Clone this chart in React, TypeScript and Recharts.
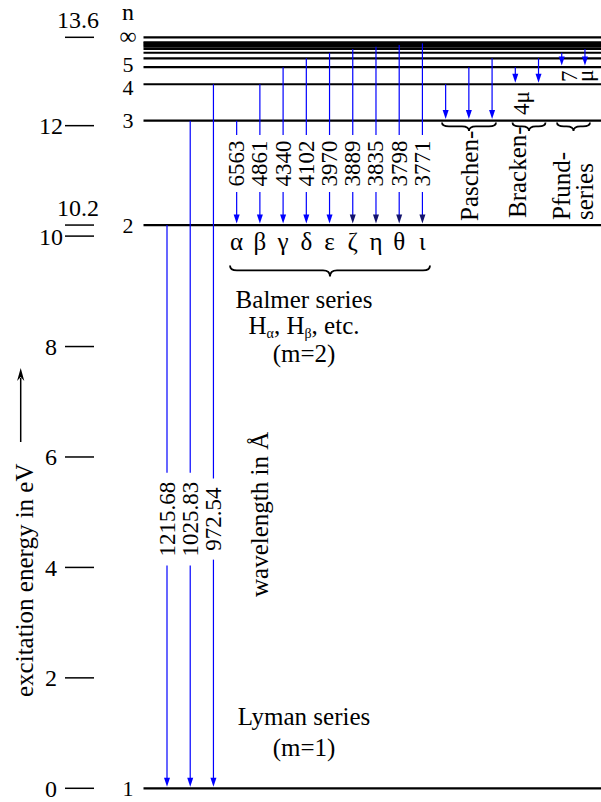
import React from 'react';
import { ComposedChart, XAxis, YAxis, ReferenceLine, ReferenceDot } from 'recharts';

// ---------- data ----------
const levelNames = ['1', '2', '3', '4', '5', '6', '7', '8', '9', '10', '11', '12', '∞'];
const levelEnergies = [0, 10.2, 12.09, 12.75, 13.06, 13.22, 13.32, 13.39, 13.43, 13.46, 13.49, 13.51, 13.6];
const labelledLevels = ['1', '2', '3', '4', '5', '∞'];
const yTicks = [0, 2, 4, 6, 8, 10, 12];
const yTicksAbove = [10.2, 13.6];

const lymanUpper = [2, 3, 4];
const lymanWavelengths = ['1215.68', '1025.83', '972.54'];
const balmerUpper = [3, 4, 5, 6, 7, 8, 9, 10, 11];
const balmerWavelengths = ['6563', '4861', '4340', '4102', '3970', '3889', '3835', '3798', '3771'];
const balmerLetters = ['α', 'β', 'γ', 'δ', 'ε', 'ζ', 'η', 'θ', 'ι'];
const paschenUpper = [4, 5, 6];
const brackettUpper = [5, 6];
const pfundUpper = [7, 8];

// ---------- layout ----------
const W = 601;
const H = 802;
const COL0 = 167;
const COLW = 23.22;
const Y0 = 788.3;
const PXEV = 55.22;
const colAt = (px: number) => (px - COL0) / COLW;
const eAt = (py: number) => (Y0 - py) / PXEV;
const X_DOMAIN: [number, number] = [colAt(0), colAt(W)];
const Y_DOMAIN: [number, number] = [eAt(H), eAt(0)];

const FONT = '"Liberation Serif", "Times New Roman", serif';
const FS = 23;
const FST = 24;
const FSW = 25;
const BLUE = '#0000ff';
const NAVY = '#14146e';

const energy = (n: number) => levelEnergies[n - 1];

type Tr = { col: number; upper: number; lower: number; label?: string; labelE?: number; pad?: number; head?: string };
const transitions: Tr[] = [];
{
  let c = 0;
  lymanUpper.forEach((u, i) => transitions.push({ col: c++, upper: u, lower: 1, label: lymanWavelengths[i], labelE: eAt(519), pad: 9 }));
  balmerUpper.forEach((u, i) => transitions.push({ col: c++, upper: u, lower: 2, label: balmerWavelengths[i], labelE: eAt(163.5), pad: 5.5, head: i >= 5 ? NAVY : BLUE }));
  paschenUpper.forEach((u) => transitions.push({ col: c++, upper: u, lower: 3 }));
  brackettUpper.forEach((u) => transitions.push({ col: c++, upper: u, lower: 4 }));
  pfundUpper.forEach((u) => transitions.push({ col: c++, upper: u, lower: 5 }));
}

const labelLen = (s: string) => {
  let em = 0;
  for (const ch of s) em += ch === '.' ? 0.25 : 0.5;
  return em * FS;
};

const arrowShape = (t: Tr) => (p: any) => {
  const x = p.x1;
  const yTop = Math.min(p.y1, p.y2);
  const yBot = Math.max(p.y1, p.y2);
  const eTop = energy(t.upper);
  const eBot = energy(t.lower);
  const k = (yBot - yTop) / (eTop - eBot);
  const tip = yBot - 1.6;
  const hl = 9;
  const hw = 3;
  const segs: [number, number][] = [];
  if (t.label && t.labelE !== undefined) {
    const c = yTop + (eTop - t.labelE) * k;
    const half = labelLen(t.label) / 2 + (t.pad || 5);
    segs.push([yTop, c - half]);
    segs.push([c + half, tip - hl + 1]);
  } else {
    segs.push([yTop, tip - hl + 1]);
  }
  return (
    <g>
      {segs.map((s, i) => (
        <line key={i} x1={x} x2={x} y1={s[0]} y2={s[1]} stroke={BLUE} strokeWidth={1.2} />
      ))}
      <polygon points={`${x - hw},${tip - hl} ${x + hw},${tip - hl} ${x},${tip}`} fill={t.head || BLUE} />
    </g>
  );
};

const braceShape = (depth: number) => (p: any) => {
  const x1 = Math.min(p.x1, p.x2);
  const x2 = Math.max(p.x1, p.x2);
  const y = p.y1;
  const m = (x1 + x2) / 2;
  const r = Math.min(7, (x2 - x1) / 4);
  const yb = y + depth * 0.45;
  const yt = y + depth;
  const d = `M ${x1} ${y} Q ${x1} ${yb} ${x1 + r} ${yb} L ${m - r} ${yb} Q ${m} ${yb} ${m} ${yt} Q ${m} ${yb} ${m + r} ${yb} L ${x2 - r} ${yb} Q ${x2} ${yb} ${x2} ${y}`;
  return <path d={d} fill="none" stroke="#000" strokeWidth={1.8} />;
};

const axisArrowShape = (p: any) => {
  const x = p.x1;
  const top = Math.min(p.y1, p.y2);
  const bot = Math.max(p.y1, p.y2);
  return (
    <g>
      <line x1={x} x2={x} y1={top + 10} y2={bot} stroke="#000" strokeWidth={1.5} />
      <polygon points={`${x - 3.6},${top + 13} ${x},${top + 9} ${x + 3.6},${top + 13} ${x},${top}`} fill="#000" />
    </g>
  );
};

type TextOpts = { anchor?: 'start' | 'middle' | 'end'; db?: string; rot?: boolean; fs?: number; dy?: number; dx?: number };
const textShape = (content: React.ReactNode, o: TextOpts = {}) => (p: any) => {
  const x = p.cx + (o.dx || 0);
  const y = p.cy + (o.dy || 0);
  return (
    <text
      x={x}
      y={y}
      transform={o.rot ? `rotate(-90 ${x} ${y})` : undefined}
      textAnchor={o.anchor || 'middle'}
      dominantBaseline={o.db || 'alphabetic'}
      fontSize={o.fs || FSW}
      fontFamily={FONT}
      fill="#000"
    >
      {content}
    </text>
  );
};

const T = (key: string, x: number, y: number, content: React.ReactNode, o: TextOpts = {}) => (
  <ReferenceDot key={key} x={x} y={y} r={0} ifOverflow="visible" shape={textShape(content, o)} />
);

const levelLabelDy: Record<string, number> = { '1': 0.5, '2': 0.5, '3': -0.5, '4': 3, '5': -3, '∞': -1.5 };

export default function App() {
  const xL = colAt(143.5);
  const xR = X_DOMAIN[1];
  return (
    <div style={{ position: 'absolute', left: 0, top: 0, width: W, height: H, background: '#fff' }}>
      <ComposedChart width={W} height={H} margin={{ top: 0, right: 0, bottom: 0, left: 0 }} data={[]}>
        <XAxis type="number" dataKey="x" domain={X_DOMAIN} allowDataOverflow hide />
        <YAxis type="number" domain={Y_DOMAIN} allowDataOverflow hide />

        {/* energy levels */}
        {levelEnergies.map((e, i) => (
          <ReferenceLine key={'lv' + i} segment={[{ x: xL, y: e }, { x: xR, y: e }]} stroke="#000" strokeWidth={2.2} ifOverflow="visible" />
        ))}

        {/* axis ticks */}
        {[...yTicks, ...yTicksAbove].map((v) => (
          <ReferenceLine key={'tk' + v} segment={[{ x: colAt(65), y: v }, { x: colAt(94), y: v }]} stroke="#000" strokeWidth={1.5} ifOverflow="visible" />
        ))}
        {yTicks.map((v) => T('tl' + v, colAt(51), v, String(v), { fs: FST, db: 'central', dy: 0.5 }))}
        {yTicksAbove.map((v) => T('ta' + v, colAt(78), v, String(v), { fs: FST, db: 'central', dy: -17.5 }))}

        {/* level names */}
        {T('n', colAt(128), eAt(20), 'n', { fs: FST })}
        {labelledLevels.map((n) => {
          const idx = levelNames.indexOf(n);
          return T('ln' + n, colAt(128), levelEnergies[idx], n, { fs: n === '∞' ? FST : 22, db: 'central', dy: levelLabelDy[n] });
        })}

        {/* transitions */}
        {transitions.map((t, i) => (
          <ReferenceLine
            key={'tr' + i}
            segment={[{ x: t.col, y: energy(t.upper) }, { x: t.col, y: energy(t.lower) }]}
            ifOverflow="visible"
            shape={arrowShape(t)}
          />
        ))}
        {transitions
          .filter((t) => t.label)
          .map((t, i) => T('wl' + i, t.col, t.labelE as number, t.label, { fs: FS, rot: true, db: 'central' }))}

        {/* Balmer letters */}
        {transitions
          .filter((t) => t.lower === 2)
          .map((t, i) => T('gr' + i, t.col, eAt(250), balmerLetters[i], { fs: 25 }))}

        {/* braces */}
        <ReferenceLine segment={[{ x: colAt(230), y: eAt(265.5) }, { x: colAt(430), y: eAt(265.5) }]} ifOverflow="visible" shape={braceShape(11)} />
        <ReferenceLine segment={[{ x: colAt(442), y: eAt(122.5) }, { x: colAt(496), y: eAt(122.5) }]} ifOverflow="visible" shape={braceShape(8.5)} />
        <ReferenceLine segment={[{ x: colAt(512.5), y: eAt(122.5) }, { x: colAt(545.5), y: eAt(122.5) }]} ifOverflow="visible" shape={braceShape(8.5)} />
        <ReferenceLine segment={[{ x: colAt(557), y: eAt(122.5) }, { x: colAt(590), y: eAt(122.5) }]} ifOverflow="visible" shape={braceShape(8.5)} />

        {/* series captions */}
        {T('bs1', colAt(304), eAt(308), 'Balmer series')}
        {T(
          'bs2',
          colAt(304),
          eAt(334),
          <>
            H<tspan fontSize={14} dy={4}>α</tspan>
            <tspan dy={-4}>, H</tspan>
            <tspan fontSize={14} dy={4}>β</tspan>
            <tspan dy={-4}>, etc.</tspan>
          </>
        )}
        {T('bs3', colAt(304), eAt(362), '(m=2)')}
        {T('ly1', colAt(304), eAt(725), 'Lyman series')}
        {T('ly2', colAt(304), eAt(756), '(m=1)')}

        {T('pa', colAt(469.5), eAt(221), 'Paschen-', { rot: true, anchor: 'start', db: 'central' })}
        {T('br', colAt(517), eAt(218), 'Bracken-', { rot: true, anchor: 'start', db: 'central' })}
        {T('pf1', colAt(561.5), eAt(220), 'Pfund-', { rot: true, anchor: 'start', db: 'central' })}
        {T('pf2', colAt(593), eAt(220), 'series', { rot: true, anchor: 'start' })}
        {T('mu4', colAt(529), eAt(115), '4μ', { fs: FS, rot: true, anchor: 'start' })}
        {T('mu7a', colAt(577), eAt(82), '7', { fs: FS, rot: true, anchor: 'start' })}
        {T('mu7b', colAt(593), eAt(82), 'μ', { fs: FS, rot: true, anchor: 'start' })}

        {T('wv', colAt(268), eAt(597), 'wavelength in Å', { rot: true, anchor: 'start' })}
        {T('ex', colAt(33), eAt(697), 'excitation energy in eV', { rot: true, anchor: 'start' })}
        <ReferenceLine segment={[{ x: colAt(20.7), y: eAt(368) }, { x: colAt(20.7), y: eAt(442) }]} ifOverflow="visible" shape={axisArrowShape} />
      </ComposedChart>
    </div>
  );
}
